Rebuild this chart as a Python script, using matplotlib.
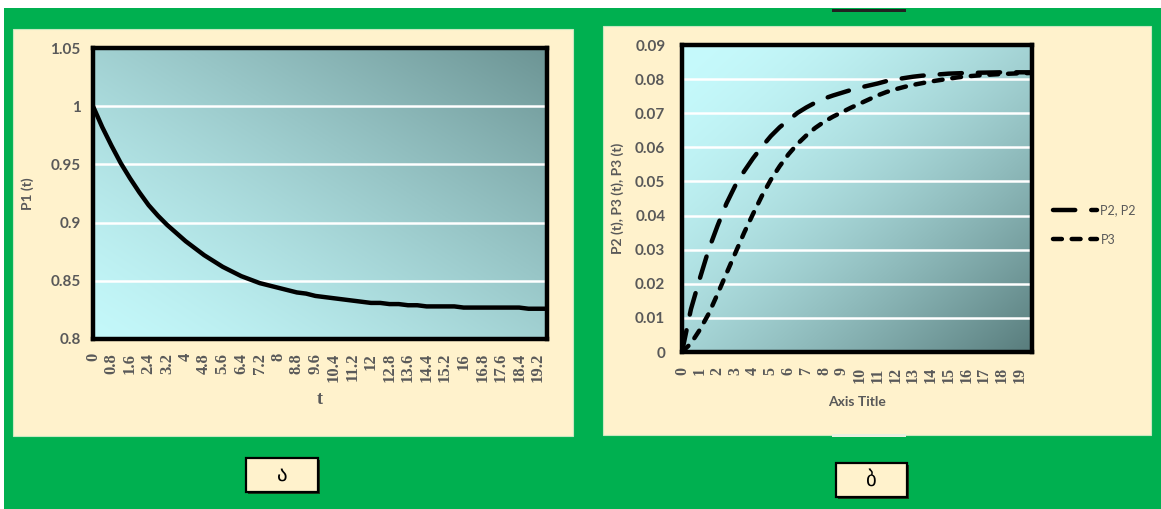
import numpy as np
import matplotlib
matplotlib.use("Agg")
import matplotlib.pyplot as plt
from matplotlib.patches import Rectangle
from matplotlib.transforms import Affine2D

W, H = 1161, 509

# ---- panel (a): P1(t) ----
t1 = [0.0, 0.4, 0.8, 1.2, 1.6, 2.0, 2.4, 2.8, 3.2, 3.6,
      4.0, 4.4, 4.8, 5.2, 5.6, 6.0, 6.4, 6.8, 7.2, 7.6,
      8.0, 8.4, 8.8, 9.2, 9.6, 10.0, 10.4, 10.8, 11.2, 11.6,
      12.0, 12.4, 12.8, 13.2, 13.6, 14.0, 14.4, 14.8, 15.2, 15.6,
      16.0, 16.4, 16.8, 17.2, 17.6, 18.0, 18.4, 18.8, 19.2, 19.6]
p1 = [1.000, 0.982, 0.966, 0.951, 0.938, 0.926, 0.915, 0.906, 0.898, 0.891,
      0.884, 0.878, 0.872, 0.867, 0.862, 0.858, 0.854, 0.851, 0.848, 0.846,
      0.844, 0.842, 0.840, 0.839, 0.837, 0.836, 0.835, 0.834, 0.833, 0.832,
      0.831, 0.831, 0.830, 0.830, 0.829, 0.829, 0.828, 0.828, 0.828, 0.828,
      0.827, 0.827, 0.827, 0.827, 0.827, 0.827, 0.827, 0.826, 0.826, 0.826]
t1_ticks = [0.0, 0.8, 1.6, 2.4, 3.2, 4.0, 4.8, 5.6, 6.4, 7.2, 8.0, 8.8, 9.6,
            10.4, 11.2, 12.0, 12.8, 13.6, 14.4, 15.2, 16.0, 16.8, 17.6, 18.4, 19.2]
t1_tick_labels = ["0", "0.8", "1.6", "2.4", "3.2", "4", "4.8", "5.6", "6.4", "7.2",
                  "8", "8.8", "9.6", "10.4", "11.2", "12", "12.8", "13.6", "14.4",
                  "15.2", "16", "16.8", "17.6", "18.4", "19.2"]
p1_yticks = [0.8, 0.85, 0.9, 0.95, 1.0, 1.05]
p1_ylabels = ["0.8", "0.85", "0.9", "0.95", "1", "1.05"]

# ---- panel (b): P2(t), P3(t) ----
t2 = [0, 0.5, 1, 1.5, 2, 2.5, 3, 3.5, 4, 4.5, 5, 5.5, 6, 6.5, 7, 7.5, 8, 8.5,
      9, 9.5, 10, 10.5, 11, 11.5, 12, 12.5, 13, 13.5, 14, 14.5, 15, 15.5,
      16, 17, 18, 19, 19.7]
p2 = [0.0, 0.0125, 0.0215, 0.0300, 0.0370, 0.0435, 0.0488, 0.0530, 0.0568, 0.0602,
      0.0633, 0.0659, 0.0680, 0.0701, 0.0717, 0.0731, 0.0743, 0.0752, 0.0760, 0.0768,
      0.0775, 0.0781, 0.0787, 0.0794, 0.0799, 0.0803, 0.0807, 0.0810, 0.0812, 0.0814,
      0.0816, 0.0817, 0.0818, 0.0819, 0.0820, 0.0820, 0.0820]
p3 = [0.0, 0.0025, 0.0065, 0.0112, 0.0170, 0.0230, 0.0290, 0.0350, 0.0405, 0.0458,
      0.0505, 0.0545, 0.0580, 0.0610, 0.0635, 0.0657, 0.0675, 0.0690, 0.0703, 0.0716,
      0.0728, 0.0740, 0.0752, 0.0762, 0.0770, 0.0777, 0.0783, 0.0788, 0.0793, 0.0797,
      0.0801, 0.0805, 0.0808, 0.0812, 0.0815, 0.0817, 0.0818]
t2_ticks = [0, 1, 2, 3, 4, 5, 6, 7, 8, 9, 10, 11, 12, 13, 14, 15, 16, 17, 18, 19]
t2_tick_labels = ["0", "1", "2", "3", "4", "5", "6", "7", "8", "9", "10", "11",
                  "12", "13", "14", "15", "16", "17", "18", "19"]
p23_yticks = [0, 0.01, 0.02, 0.03, 0.04, 0.05, 0.06, 0.07, 0.08, 0.09]
p23_ylabels = ["0", "0.01", "0.02", "0.03", "0.04", "0.05", "0.06", "0.07", "0.08", "0.09"]
legend_labels = ["P2, P2", "P3"]
panel_letters = ["ა", "ბ"]

GREEN = "#00B050"
BEIGE = "#FFF2CC"
GRAY = "#595959"
NARROW = ["Liberation Sans Narrow", "Lato", "DejaVu Sans"]
SERIF = ["Liberation Serif", "DejaVu Serif"]
SANS = ["Lato", "DejaVu Sans"]

fig = plt.figure(figsize=(W / 100, H / 100), dpi=100)
fig.patch.set_facecolor("white")

# pixel coordinates measured from the top-left corner of the figure
pix = Affine2D().scale(1 / W, -1 / H).translate(0, 1) + fig.transFigure


def rect(x0, y0, x1, y1, **kw):
    r = Rectangle((x0, y0), x1 - x0, y1 - y0, transform=pix, **kw)
    fig.add_artist(r)
    return r


def axes_at(x0, y0, x1, y1):
    return fig.add_axes([x0 / W, 1 - y1 / H, (x1 - x0) / W, (y1 - y0) / H])


rect(4, 8, W + 2, H + 2, facecolor=GREEN, edgecolor="none", zorder=-10)
rect(13, 29, 573, 436, facecolor=BEIGE, edgecolor="#c8e8c0", lw=0.8, zorder=-9)
rect(603, 26, 1151, 435, facecolor=BEIGE, edgecolor="#c8e8c0", lw=0.8, zorder=-9)
rect(832, 9, 906, 11.5, facecolor="#222222", edgecolor="none", zorder=-8)
rect(832, 434, 906, 437, facecolor="#e8f0e0", edgecolor="none", zorder=-8)


def gradient(ax, light, dark, rising, power):
    n = 256
    x = np.linspace(0, 1, n)
    X, Y = np.meshgrid(x, x)
    d = (X + Y) / 2 if rising else (X + (1 - Y)) / 2
    d = d ** power
    light = np.array(light, float) / 255
    dark = np.array(dark, float) / 255
    img = light * (1 - d)[..., None] + dark * d[..., None]
    ax.imshow(img, extent=[0, 1, 0, 1], transform=ax.transAxes, origin="lower",
              aspect="auto", zorder=0, interpolation="bilinear")


def style_axes(ax):
    ax.set_facecolor("none")
    ax.set_axisbelow(True)
    ax.yaxis.grid(True, color="white", lw=1.8)
    ax.xaxis.grid(False)
    for s in ax.spines.values():
        s.set_linewidth(3.2)
        s.set_color("black")
        s.set_zorder(5)
    ax.tick_params(length=0)


# ---- left chart ----
ax1 = axes_at(93, 48, 547, 339)
gradient(ax1, (196, 248, 250), (108, 148, 148), rising=True, power=1.35)
style_axes(ax1)
ax1.plot(t1, p1, color="black", lw=3.2, solid_capstyle="round", zorder=3)
ax1.set_xlim(0, 19.6)
ax1.set_ylim(0.8, 1.05)
ax1.set_yticks(p1_yticks)
ax1.set_yticklabels(p1_ylabels, fontfamily=NARROW, fontweight="bold",
                    fontsize=11, color=GRAY)
ax1.set_xticks(t1_ticks)
ax1.set_xticklabels(t1_tick_labels, rotation=90, fontfamily=SERIF,
                    fontweight="bold", fontsize=12, color=GRAY)
ax1.tick_params(axis="y", pad=9)
ax1.tick_params(axis="x", pad=10)
ax1.set_xlabel("t", fontfamily=SERIF, fontweight="bold", fontsize=13,
               color=GRAY, labelpad=6)
ax1.set_ylabel("P1 (t)", fontfamily=SANS, fontweight="bold", fontsize=10,
               color=GRAY, labelpad=12)

# ---- right chart ----
ax2 = axes_at(682, 45, 1032, 352)
gradient(ax2, (198, 250, 252), (88, 124, 124), rising=False, power=1.7)
style_axes(ax2)
l2, = ax2.plot(t2, p2, color="black", lw=3.2, dashes=(5.0, 3.6),
               dash_capstyle="round", zorder=3)
l3, = ax2.plot(t2, p3, color="black", lw=3.2, dashes=(2.0, 2.2),
               dash_capstyle="round", zorder=3)
ax2.set_xlim(0, 19.7)
ax2.set_ylim(0, 0.09)
ax2.set_yticks(p23_yticks)
ax2.set_yticklabels(p23_ylabels, fontfamily=NARROW, fontweight="bold",
                    fontsize=11, color=GRAY)
ax2.set_xticks(t2_ticks)
ax2.set_xticklabels(t2_tick_labels, rotation=90, fontfamily=SERIF,
                    fontweight="bold", fontsize=11.5, color=GRAY)
ax2.tick_params(axis="y", pad=12)
ax2.tick_params(axis="x", pad=11)
ax2.set_xlabel("Axis Title", fontfamily=SANS, fontweight="bold", fontsize=10,
               color=GRAY, labelpad=9)
ax2.set_ylabel("P2 (t), P3 (t), P3 (t)", fontfamily=SANS, fontweight="bold",
               fontsize=10, color=GRAY, labelpad=8)

leg = ax2.legend([l2, l3], legend_labels, loc="upper left",
                 bbox_to_anchor=(1053 / W, 1 - 204 / H),
                 bbox_transform=fig.transFigure, frameon=False,
                 handlelength=3.5, handletextpad=0.3, labelspacing=1.4,
                 borderpad=0, borderaxespad=0,
                 prop={"family": SANS, "size": 9})
for txt in leg.get_texts():
    txt.set_color(GRAY)

# ---- panel letters ----
boxes = [(246, 458, 318, 492), (836, 463, 907, 497)]
for (x0, y0, x1, y1), letter in zip(boxes, panel_letters):
    rect(x0 + 2, y0 + 2, x1 + 2, y1 + 2, facecolor="#1a3a1a", edgecolor="none",
         zorder=1)
    rect(x0, y0, x1, y1, facecolor=BEIGE, edgecolor="black", lw=1.6, zorder=2)
    fig.text((x0 + x1) / 2 / W, 1 - (y0 + y1) / 2 / H, letter,
             ha="center", va="center", fontsize=15, fontfamily="DejaVu Sans",
             color="black", zorder=3)

fig.savefig("out.png", dpi=100, facecolor=fig.get_facecolor())
